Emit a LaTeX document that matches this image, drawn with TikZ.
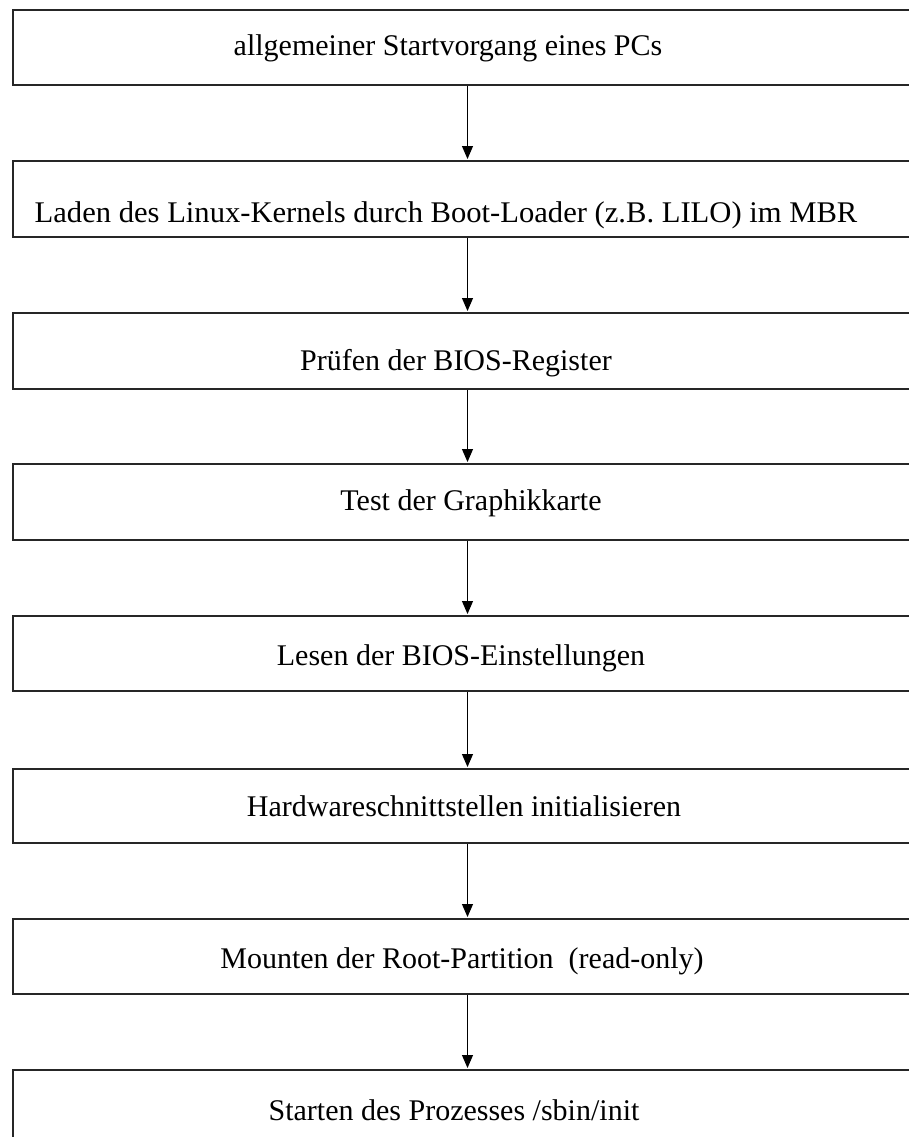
\documentclass[tikz,border=0pt]{standalone}
\usepackage{fontspec}
\setmainfont{Liberation Serif}
\usetikzlibrary{arrows.meta}
\begin{document}
\begin{tikzpicture}[x=1pt,y=-1pt,
  box/.style={draw=black!85,line width=2pt,minimum width=897pt,inner sep=0pt,anchor=north west},
  txt/.style={anchor=base,inner sep=0pt,font=\fontsize{30}{32}\selectfont},
  arr/.style={draw=black,line width=1pt,-{Triangle[length=13pt,width=11pt]}}]
\useasboundingbox (0,0) rectangle (909,1137);
\clip (0,0) rectangle (909,1137);
\node[box,minimum height=75pt] (b1) at (11.5,9) {};
\node[box,minimum height=76pt] (b2) at (11.5,160) {};
\node[box,minimum height=76pt] (b3) at (11.5,312) {};
\node[box,minimum height=76pt] (b4) at (11.5,463) {};
\node[box,minimum height=75pt] (b5) at (11.5,615) {};
\node[box,minimum height=74pt] (b6) at (11.5,768) {};
\node[box,minimum height=75pt] (b7) at (11.5,918) {};
\node[box,minimum height=80pt] (b8) at (11.5,1069) {};
\node[txt] (t1) at (448,56) {allgemeiner Startvorgang eines PCs};
\node[txt,xscale=1.02] (t2) at (446,222) {Laden des Linux-Kernels durch Boot-Loader (z.B. LILO) im MBR};
\node[txt] (t3) at (456,370) {Prüfen der BIOS-Register};
\node[txt] (t4) at (471,510) {Test der Graphikkarte};
\node[txt] (t5) at (461,665) {Lesen der BIOS-Einstellungen};
\node[txt] (t6) at (464,816) {Hardwareschnittstellen initialisieren};
\node[txt] (t7) at (462,968) {Mounten der Root-Partition\ \ (read-only)};
\node[txt] (t8) at (454,1120) {Starten des Prozesses /sbin/init};
\foreach \a/\b in {b1/b2,b2/b3,b3/b4,b4/b5,b5/b6,b6/b7,b7/b8}
  \draw[arr] ([xshift=6.5pt]\a.south) -- ([xshift=6.5pt,yshift=1pt]\b.north);
\end{tikzpicture}
\end{document}
